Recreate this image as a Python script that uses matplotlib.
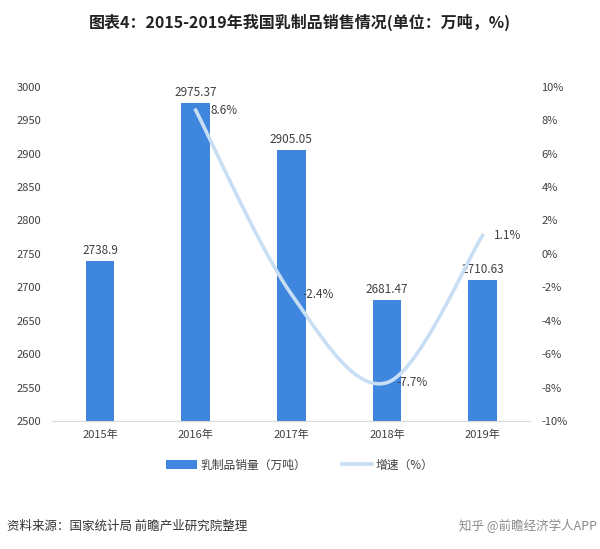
import matplotlib
matplotlib.use("Agg")
import matplotlib.pyplot as plt
import numpy as np

plt.rcParams['font.family'] = ['Noto Sans CJK SC', 'DejaVu Sans']
plt.rcParams['axes.unicode_minus'] = False

years = ['2015年', '2016年', '2017年', '2018年', '2019年']
sales = [2738.9, 2975.37, 2905.05, 2681.47, 2710.63]
growth_years = [1, 2, 3, 4]
growth = [8.6, -2.4, -7.7, 1.1]
growth_labels = ['8.6%', '-2.4%', '-7.7%', '1.1%']

bar_color = '#3f86de'
line_color = '#c8def4'
text_color = '#404040'


def smooth(xs, ys, n=40):
    # bezier smoothing like the spreadsheet "smoothed line" option
    xs = np.asarray(xs, float)
    ys = np.asarray(ys, float)
    px = np.concatenate([[xs[0]], xs, [xs[-1]]])
    py = np.concatenate([[ys[0]], ys, [ys[-1]]])
    out_x, out_y = [], []
    t = np.linspace(0, 1, n)
    for i in range(1, len(px) - 2):
        p0 = np.array([px[i], py[i]])
        p3 = np.array([px[i + 1], py[i + 1]])
        p1 = p0 + (np.array([px[i + 1], py[i + 1]]) - np.array([px[i - 1], py[i - 1]])) / 6
        p2 = p3 - (np.array([px[i + 2], py[i + 2]]) - np.array([px[i], py[i]])) / 6
        b = ((1 - t) ** 3)[:, None] * p0 + (3 * (1 - t) ** 2 * t)[:, None] * p1 \
            + (3 * (1 - t) * t ** 2)[:, None] * p2 + (t ** 3)[:, None] * p3
        out_x.extend(b[:, 0])
        out_y.extend(b[:, 1])
    return out_x, out_y


fig = plt.figure(figsize=(6, 5.49), dpi=100)
ax = fig.add_axes([0.087, 0.233, 0.797, 0.609])
x = np.arange(len(years))
ax.bar(x, sales, width=0.3, color=bar_color, zorder=2, label='乳制品销量（万吨）')
ax.set_ylim(2500, 3000)
ax.set_xlim(-0.5, 4.5)
ax.set_yticks(np.arange(2500, 3001, 50))
ax.set_xticks(x)
ax.set_xticklabels(years)
for xi, v in zip(x, sales):
    ax.text(xi, v + 6, f'{v:g}', ha='center', va='bottom', fontsize=8.5, color=text_color)

ax2 = ax.twinx()
sx, sy = smooth(growth_years, growth)
ax2.plot(sx, sy, color=line_color, lw=2.6, zorder=3, label='增速（%）')
ax2.set_ylim(-10, 10)
ax2.set_yticks(np.arange(-10, 11, 2))
ax2.set_yticklabels([f'{v}%' for v in range(-10, 11, 2)])
offsets = [0.16, 0.12, 0.1, 0.12]
for gx, gy, lab, dx in zip(growth_years, growth, growth_labels, offsets):
    ax2.text(gx + dx, gy, lab, ha='left', va='center', fontsize=8.5, color=text_color)

for a in (ax, ax2):
    for s in a.spines.values():
        s.set_visible(False)
    a.tick_params(length=0, labelsize=8, colors=text_color)
ax.spines['bottom'].set_visible(True)
ax.spines['bottom'].set_color('#d9d9d9')
ax.tick_params(axis='x', pad=6)
ax.tick_params(axis='y', pad=8)
ax2.tick_params(axis='y', pad=8)

h1, l1 = ax.get_legend_handles_labels()
h2, l2 = ax2.get_legend_handles_labels()
fig.legend(h1 + h2, l1 + l2, loc='center', bbox_to_anchor=(0.5, 0.153), ncol=2,
           frameon=False, fontsize=8.5, handlelength=2.6, columnspacing=3,
           labelcolor=text_color, handletextpad=0.3)

fig.text(0.5, 0.96, '图表4：2015-2019年我国乳制品销售情况(单位：万吨，%)', ha='center', va='center',
         fontsize=11.5, fontweight='bold', color='#222222')
fig.text(0.012, 0.042, '资料来源：国家统计局 前瞻产业研究院整理', ha='left', va='center',
         fontsize=9, color='#333333')
fig.text(0.995, 0.042, '知乎 @前瞻经济学人APP', ha='right', va='center',
         fontsize=9, color='#8a8a8a')

fig.savefig('out.png', dpi=100)
